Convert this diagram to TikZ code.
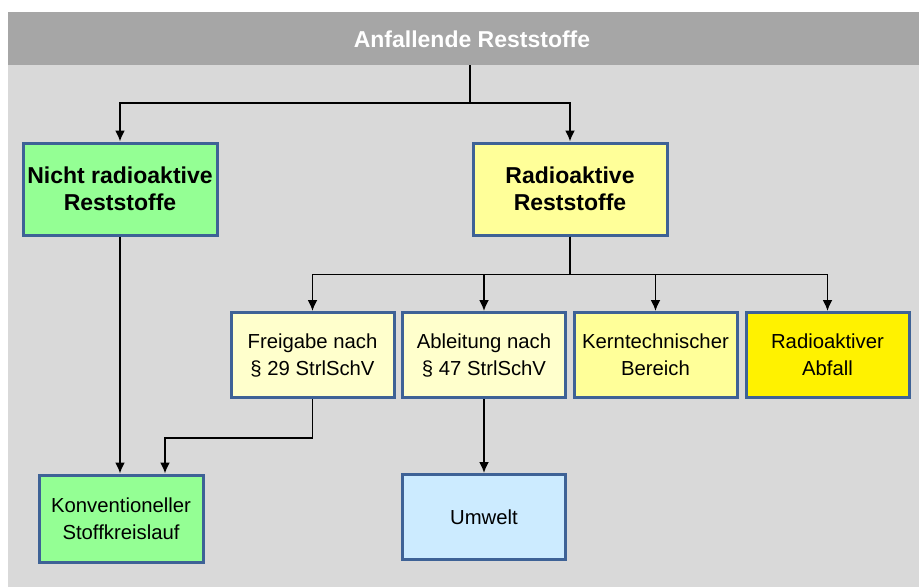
\documentclass[tikz,border=0pt]{standalone}
\usepackage{fontspec}
\setmainfont{Liberation Sans}
\usetikzlibrary{positioning, arrows.meta}

\definecolor{panelgray}{HTML}{D9D9D9}
\definecolor{headgray}{HTML}{A6A6A6}
\definecolor{boxframe}{HTML}{3E6296}
\definecolor{lightgreen}{HTML}{94FF94}
\definecolor{paleyellow}{HTML}{FFFF99}
\definecolor{cream}{HTML}{FFFFCC}
\definecolor{skyblue}{HTML}{CCEBFF}

\tikzset{
  box/.style={draw=boxframe, line width=3pt, align=center, inner sep=0pt},
  bigbox/.style={box, minimum width=194pt, minimum height=92pt,
    font=\fontsize{23}{27}\selectfont\bfseries},
  smallbox/.style={box, minimum width=163pt, minimum height=85pt,
    font=\fontsize{20.3}{27}\selectfont},
  link/.style={->, line width=1.8pt}
}

\begin{document}
\begin{tikzpicture}[>={Latex[length=11pt,width=10pt]}, x=1pt, y=-1pt]
  \useasboundingbox (0,0) rectangle (919,587);
  % panel and title bar
  \fill [panelgray] (8,12) rectangle (919,587);
  \fill [headgray] (8,12) rectangle (919,65);
  \node [text=white, font=\fontsize{23}{26}\selectfont\bfseries] (head) at (472,39) {Anfallende Reststoffe};
  \coordinate (headfoot) at (470,65);

  % first level
  \node [bigbox, fill=lightgreen] (nicht) at (120,189) {Nicht radioaktive\\Reststoffe};
  \node [bigbox, fill=paleyellow] (radio) at (570,189) {Radioaktive\\Reststoffe};

  % second level
  \node [smallbox, fill=cream] (frei) at (312.5,355) {Freigabe nach\\\S\ 29 StrlSchV};
  \node [smallbox, fill=cream] (ableit) at (484,355) {Ableitung nach\\\S\ 47 StrlSchV};
  \node [smallbox, fill=paleyellow] (kern) at (655.5,355) {Kerntechnischer\\Bereich};
  \node [smallbox, fill=yellow] (abfall) at (827.5,355) {Radioaktiver\\Abfall};

  % third level
  \node [smallbox, fill=lightgreen, minimum width=164pt, minimum height=87pt] (konv) at (121,518.5) {Konventioneller\\Stoffkreislauf};
  \node [smallbox, fill=skyblue] (umwelt) at (484,517) {Umwelt};

  % connectors
  \draw [link] (headfoot) -- ++(0,38) -| (nicht.north);
  \draw [link] (headfoot) -- ++(0,38) -| (radio.north);
  \draw [link] (radio.south) -- ++(0,38) -| (frei.north);
  \draw [link] (radio.south) -- ++(0,38) -| (ableit.north);
  \draw [link] (radio.south) -- ++(0,38) -| (kern.north);
  \draw [link] (radio.south) -- ++(0,38) -| (abfall.north);
  \draw [link] (nicht.south) -- (nicht.south |- konv.north);
  \draw [link] (frei.south) -- ++(0,39) -| ([xshift=44pt]konv.north);
  \draw [link] (ableit.south) -- (umwelt.north);
\end{tikzpicture}
\end{document}
